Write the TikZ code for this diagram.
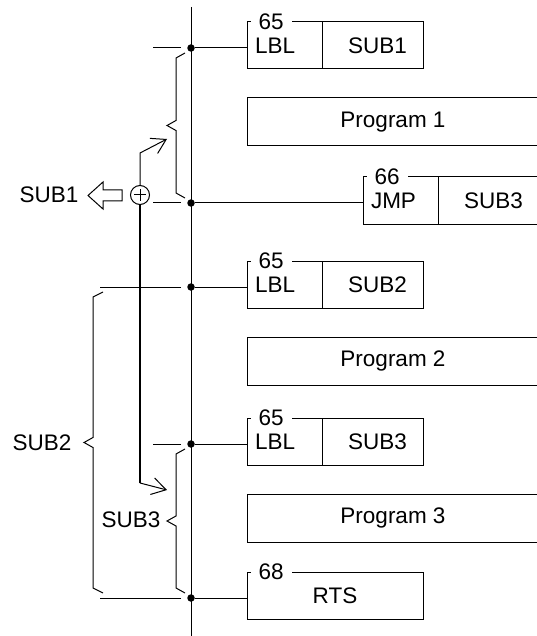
\documentclass[tikz,border=0pt]{standalone}
\usepackage{fontspec}
\setmainfont{Liberation Sans}
\usetikzlibrary{positioning,arrows.meta}

\begin{document}
\begin{tikzpicture}[x=1pt,y=-1pt,line width=1pt,
  font=\fontsize{22.5}{27}\selectfont,
  cell/.style={draw,outer sep=0pt,minimum height=47pt,inner ysep=0pt},
  opcell/.style={cell,inner xsep=8pt,text width=59pt,align=left},
  argcell/.style={cell,inner xsep=16pt,text width=69pt,align=right},
  prog/.style={draw,outer sep=0pt,minimum width=292pt,minimum height=48pt,anchor=north west},
  tag/.style={fill=white,inner xsep=8pt,inner ysep=0pt,anchor=west},
  joint/.style={circle,fill,inner sep=0pt,minimum size=7.5pt},
  jump/.style={-{Straight Barb[length=14pt,width=17pt]}},
]
\useasboundingbox (0,0) rectangle (537,636);

% address bus
\coordinate (bustop) at (191,7);
\coordinate (busend) at (191,636);
\draw (bustop) -- (busend);

% LBL SUB1
\node[joint] (d1) at (191,48) {};
\node[opcell,anchor=north west] (op1) at (247,22) {LBL};
\node[argcell,right=0pt of op1] (arg1) {SUB1};
\node[tag] (n1) at ([xshift=3pt]op1.north west) {65};
\draw (d1) -- (d1 -| op1.west);
\draw ([xshift=-10pt]d1.center) -- ++(-28,0);

\node[prog] (p1) at (247,98) {Program 1};

% JMP SUB3
\node[joint] (d2) at (191,203) {};
\node[opcell,anchor=north west] (op2) at (363,177) {JMP};
\node[argcell,right=0pt of op2] (arg2) {SUB3};
\node[tag] (n2) at ([xshift=3pt]op2.north west) {66};
\draw (d2) -- (d2 -| op2.west);
\draw ([xshift=-10pt]d2.center) -- ++(-28,0);

% LBL SUB2
\node[joint] (d3) at (191,287) {};
\node[opcell,anchor=north west] (op3) at (247,261) {LBL};
\node[argcell,right=0pt of op3] (arg3) {SUB2};
\node[tag] (n3) at ([xshift=3pt]op3.north west) {65};
\draw (d3) -- (d3 -| op3.west);
\draw ([xshift=-10pt]d3.center) -- ++(-81,0);

\node[prog] (p2) at (247,337) {Program 2};

% LBL SUB3
\node[joint] (d4) at (191,444) {};
\node[opcell,anchor=north west] (op4) at (247,418) {LBL};
\node[argcell,right=0pt of op4] (arg4) {SUB3};
\node[tag] (n4) at ([xshift=3pt]op4.north west) {65};
\draw (d4) -- (d4 -| op4.west);
\draw ([xshift=-10pt]d4.center) -- ++(-28,0);

\node[prog] (p3) at (247,494) {Program 3};

% RTS
\node[joint] (d5) at (191,598) {};
\node[cell,minimum width=176pt,anchor=north west] (rts) at (247,572) {RTS};
\node[tag] (n5) at ([xshift=3pt]rts.north west) {68};
\draw (d5) -- (d5 -| rts.west);
\draw ([xshift=-10pt]d5.center) -- ++(-81,0);

% braces
\draw (185,53) -- (176,58) -- (176,120.5) -- (167,125.5) -- (176,130.5) -- (176,193) -- (185,198);
\draw (103,292) -- (93,297) -- (93,437.5) -- (84,442.5) -- (93,447.5) -- (93,588) -- (103,593);
\draw (185,449) -- (176,454) -- (176,516) -- (167,521) -- (176,526) -- (176,588) -- (185,593);
\node (b2) at (42,443) {SUB2};
\node (b3) at (131,520) {SUB3};

% call and return
\node[circle,draw,minimum size=19pt,inner sep=0pt] (call) at (140,195) {};
\draw ([xshift=-6pt]call.center) -- ([xshift=6pt]call.center);
\draw ([yshift=-6pt]call.center) -- ([yshift=6pt]call.center);
\coordinate (j1) at (140,153);
\coordinate (j1tip) at (167,139);
\draw[jump] (call) -- (j1) -- (j1tip);
\coordinate (j2) at (140,483);
\coordinate (j2tip) at (167,490);
\draw[line width=2.5pt] (call) -- (j2);
\draw[jump] (j2) -- (j2tip);

\draw (122,190) -- (103,190) -- (103,182) -- (88,195.5) -- (103,209) -- (103,201) -- (122,201) -- cycle;
\node (b1) at (49,195) {SUB1};
\end{tikzpicture}
\end{document}
